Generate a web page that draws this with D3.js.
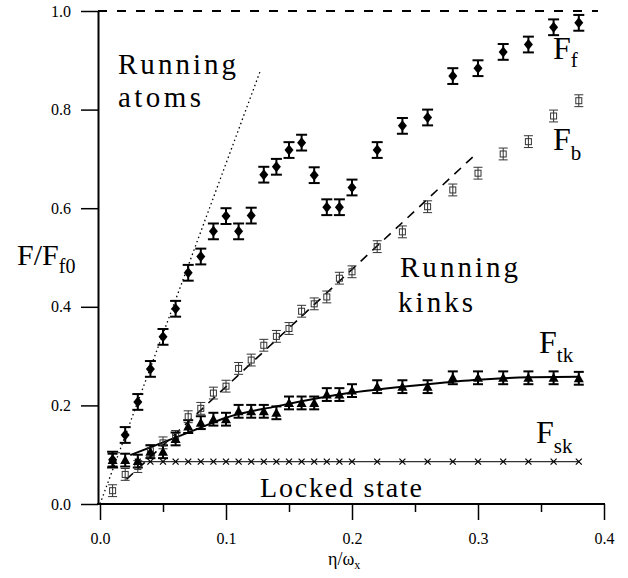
<!DOCTYPE html>
<meta charset="utf-8">
<html>
<head>
<script src="https://d3js.org/d3.v7.min.js"></script>
<style>
  body{margin:0;background:#fff}
</style>
</head>
<body>
<div id="chart"></div>
<script>
var width=628, height=578;
var serif="'Liberation Serif', 'DejaVu Serif', serif";

// ---- data ----
var fX=[0.01,0.02,0.03,0.04,0.05,0.06,0.07,0.08,0.09,0.10,0.11,0.12,0.13,0.14,0.15,0.16,0.17,0.18,0.19,0.20,0.22,0.24,0.26,0.28,0.30,0.32,0.34,0.36,0.38];
var fY=[0.090,0.140,0.207,0.274,0.339,0.396,0.469,0.502,0.553,0.584,0.553,0.585,0.668,0.684,0.718,0.733,0.667,0.602,0.602,0.642,0.718,0.767,0.784,0.868,0.884,0.917,0.932,0.967,0.976];
var bX=[0.01,0.02,0.03,0.04,0.05,0.06,0.07,0.08,0.09,0.10,0.11,0.12,0.13,0.14,0.15,0.16,0.17,0.18,0.19,0.20,0.22,0.24,0.26,0.28,0.30,0.32,0.34,0.36,0.38];
var bY=[0.027,0.060,0.076,0.108,0.124,0.137,0.177,0.194,0.225,0.239,0.275,0.292,0.322,0.340,0.356,0.391,0.406,0.420,0.458,0.471,0.522,0.552,0.603,0.637,0.671,0.710,0.735,0.787,0.818];
var tkX=[0.01,0.02,0.03,0.04,0.05,0.06,0.07,0.08,0.09,0.10,0.11,0.12,0.13,0.14,0.15,0.16,0.17,0.18,0.19,0.20,0.22,0.24,0.26,0.28,0.30,0.32,0.34,0.36,0.38];
var tkY=[0.089,0.089,0.087,0.106,0.106,0.132,0.157,0.165,0.172,0.172,0.188,0.188,0.188,0.185,0.205,0.205,0.205,0.222,0.222,0.230,0.238,0.238,0.238,0.256,0.256,0.256,0.256,0.256,0.255];
var skX=[0.03,0.04,0.05,0.06,0.07,0.08,0.09,0.10,0.11,0.12,0.13,0.14,0.15,0.16,0.17,0.18,0.19,0.20,0.22,0.24,0.26,0.28,0.30,0.32,0.34,0.36,0.38];
var skY=[0.086,0.086,0.086,0.086,0.086,0.086,0.086,0.086,0.086,0.086,0.086,0.086,0.086,0.086,0.086,0.086,0.086,0.086,0.086,0.086,0.086,0.086,0.086,0.086,0.086,0.086,0.086];
var fErr=0.016, bErr=0.012, tkErr=0.013;
// fitted curve through F_tk
var tkFitX=[0.024,0.05,0.08,0.10,0.14,0.20,0.26,0.30,0.34,0.38];
var tkFitY=[0.099,0.125,0.155,0.175,0.198,0.226,0.243,0.252,0.257,0.258];
// guide lines
var atomsX=[0,0.127], atomsY=[0,0.877];
var kinksX=[0.021,0.298], kinksY=[0.050,0.709];
var xTicks=[0,0.1,0.2,0.3,0.4], xMinor=[0.05,0.15,0.25,0.35];
var yTicks=[0,0.2,0.4,0.6,0.8,1.0];

var svg=d3.select("#chart").append("svg")
  .attr("width",width).attr("height",height);
svg.append("rect").attr("width",width).attr("height",height).attr("fill","#fff");

var x=d3.scaleLinear().domain([0,0.4]).range([100,604]);
var y=d3.scaleLinear().domain([0,1]).range([504,11]);

// axes
var xa=svg.append("g").attr("transform","translate(0,504)")
  .call(d3.axisBottom(x).tickValues(xTicks).tickSize(16).tickPadding(13).tickFormat(d3.format(".1f")));
xa.select(".domain").remove();
var xm=svg.append("g").attr("transform","translate(0,504)")
  .call(d3.axisBottom(x).tickValues(xMinor).tickSize(8).tickFormat(""));
xm.select(".domain").remove();
svg.append("line").attr("x1",97).attr("x2",605).attr("y1",504).attr("y2",504)
  .attr("stroke","#000").attr("stroke-width",2);

var ya=svg.append("g").attr("transform","translate(98,0)")
  .call(d3.axisLeft(y).tickValues(yTicks).tickSize(17).tickPadding(10).tickSizeOuter(0).tickFormat(d3.format(".1f")));
ya.select(".domain").attr("stroke-width",2);
svg.selectAll(".tick line").attr("stroke-width",1.5);
svg.selectAll("g").attr("font-family",null);
svg.selectAll(".tick text").style("font-size","16px").style("font-family",serif).attr("fill","#000");

// top dashed line at 1.0
svg.append("line").attr("x1",98).attr("x2",598).attr("y1",y(1)).attr("y2",y(1))
  .attr("stroke","#000").attr("stroke-width",2).attr("stroke-dasharray","9,10");

// guide lines
var line=d3.line().x(function(d){return x(d[0])}).y(function(d){return y(d[1])});
svg.append("path").attr("d",line(d3.zip(atomsX,atomsY)))
  .attr("stroke","#000").attr("stroke-width",1.3).attr("fill","none").attr("stroke-dasharray","1.5,3");
svg.append("path").attr("d",line(d3.zip(kinksX,kinksY)))
  .attr("stroke","#000").attr("stroke-width",1.6).attr("fill","none").attr("stroke-dasharray","9,7");
svg.append("path").attr("d",d3.line().curve(d3.curveMonotoneX).x(function(d){return x(d[0])}).y(function(d){return y(d[1])})(d3.zip(tkFitX,tkFitY)))
  .attr("stroke","#000").attr("stroke-width",2).attr("fill","none");
svg.append("path").attr("d",line(d3.zip(skX,skY)))
  .attr("stroke","#333").attr("stroke-width",1.3).attr("fill","none");

// error bars
function errBars(xs,ys,err,cap,sw,col){
  var g=svg.append("g").attr("stroke",col).attr("stroke-width",sw);
  var pts=d3.zip(xs,ys);
  g.selectAll(".v").data(pts).enter().append("line")
    .attr("x1",function(d){return x(d[0])}).attr("x2",function(d){return x(d[0])})
    .attr("y1",function(d){return y(d[1]+err)}).attr("y2",function(d){return y(d[1]-err)});
  [err,-err].forEach(function(e){
    g.selectAll(".c"+(e>0?"t":"b")).data(pts).enter().append("line")
      .attr("x1",function(d){return x(d[0])-cap}).attr("x2",function(d){return x(d[0])+cap})
      .attr("y1",function(d){return y(d[1]+e)}).attr("y2",function(d){return y(d[1]+e)});
  });
}
errBars(bX,bY,bErr,4.5,1,"#333");
errBars(fX,fY,fErr,5.5,2,"#000");
errBars(tkX,tkY,tkErr,5,2,"#000");

// markers
svg.append("g").selectAll("rect").data(d3.zip(bX,bY)).enter().append("rect")
  .attr("x",function(d){return x(d[0])-3}).attr("y",function(d){return y(d[1])-3})
  .attr("width",6).attr("height",6).attr("fill","none").attr("stroke","#333").attr("stroke-width",1);
svg.append("g").selectAll("path").data(d3.zip(fX,fY)).enter().append("path")
  .attr("d","M0,-5.5L4.5,0L0,5.5L-4.5,0Z")
  .attr("transform",function(d){return "translate("+x(d[0])+","+y(d[1])+")"})
  .attr("fill","#000");
svg.append("g").selectAll("path").data(d3.zip(tkX,tkY)).enter().append("path")
  .attr("d","M0,-5L5,4L-5,4Z")
  .attr("transform",function(d){return "translate("+x(d[0])+","+y(d[1])+")"})
  .attr("fill","#000");
svg.append("g").selectAll("path").data(d3.zip(skX,skY)).enter().append("path")
  .attr("d","M-3,-3L3,3M-3,3L3,-3")
  .attr("transform",function(d){return "translate("+x(d[0])+","+y(d[1])+")"})
  .attr("stroke","#000").attr("stroke-width",1.2).attr("fill","none");

// labels
function label(t,px,py,fs,len){
  var el=svg.append("text").attr("x",px).attr("y",py)
    .style("font-family",serif).style("font-size",fs+"px").text(t);
  if(len) el.attr("textLength",len).attr("lengthAdjust","spacing");
  return el;
}
label("Running",118,74,29,118);
label("atoms",118,107,29,83);
label("Running",400,277,29,118);
label("kinks",398,312,29,75);
label("Locked state",260,497,28,162);

function subLabel(main,sub,px,py,fs,sfs,dy){
  var t=svg.append("text").attr("x",px).attr("y",py)
    .style("font-family",serif).style("font-size",fs+"px");
  t.append("tspan").text(main);
  t.append("tspan").attr("dy",dy).style("font-size",sfs+"px").text(sub);
}
subLabel("F","f",553,59,32,21,8);
subLabel("F","b",553,150,32,21,10);
subLabel("F","tk",539,353,32,21,9);
subLabel("F","sk",536,443,32,21,10);
subLabel("F/F","f0",17,265,30,20,8);
subLabel("\u03b7/\u03c9","x",328,565,18,12,4);
</script>
</body>
</html>
